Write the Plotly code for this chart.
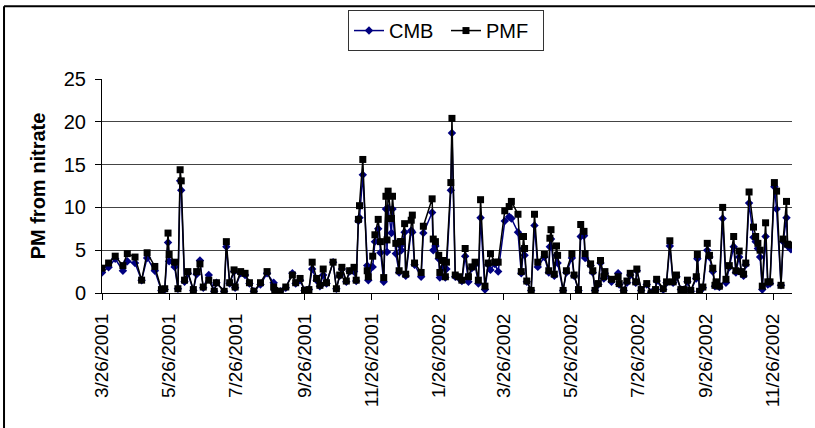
import pandas as pd
import plotly.graph_objects as go

# Sample days, counted from 2001-03-26
day_offset = [0, 6, 12, 19, 23, 30, 36, 41, 48, 54, 57, 60, 61, 66, 69, 71, 72, 75, 78, 83,
              86, 89, 92, 97, 102, 104, 111, 113, 116, 120, 121, 126, 130, 134, 138, 144, 150, 156, 157, 162,
              167, 173, 176, 180, 184, 188, 191, 195, 198, 201, 204, 210, 213, 216, 218, 222, 225, 229, 231, 233,
              234, 237, 241, 242, 246, 248, 251, 253, 256, 258, 259, 260, 263, 264, 267, 270, 271, 272, 275, 276,
              281, 282, 284, 290, 292, 300, 301, 303, 306, 307, 310, 312, 313, 317, 318, 321, 324, 327, 330, 333,
              336, 339, 342, 344, 348, 351, 353, 357, 360, 366, 370, 372, 378, 381, 383, 384, 386, 390, 393, 396,
              402, 406, 407, 408, 411, 413, 414, 419, 422, 427, 429, 433, 435, 438, 439, 444, 446, 448, 451, 453,
              456, 457, 463, 469, 470, 474, 477, 480, 485, 486, 490, 495, 499, 503, 504, 510, 513, 516, 519, 522,
              526, 529, 532, 535, 540, 541, 543, 546, 550, 552, 555, 557, 558, 561, 564, 567, 570, 574, 576, 579,
              581, 583, 585, 588, 592, 594, 596, 598, 600, 603, 605, 607, 611, 613, 617, 619, 622, 623, 626]

pmf = [2.9, 3.5, 4.3, 3.2, 4.6, 4.2, 1.5, 4.7, 3.1, 0.4, 0.5, 7.0, 4.5, 3.6, 0.5, 14.4, 13.1, 1.5, 2.5, 0.4,
       2.5, 3.4, 0.7, 1.5, 0.2, 1.2, 0.2, 6.0, 1.2, 2.7, 0.7, 2.5, 2.3, 1.2, 0.2, 1.2, 2.5, 0.7, 0.3, 0.2,
       0.7, 2.1, 1.2, 1.7, 0.3, 0.4, 3.6, 1.7, 0.9, 2.8, 1.2, 3.6, 0.5, 2.1, 3.0, 1.4, 2.6, 3.0, 1.5, 8.6,
       10.2, 15.6, 2.6, 1.9, 4.3, 6.8, 8.6, 6.0, 1.8, 11.3, 6.2, 11.9, 8.7, 11.3, 5.8, 2.6, 6.0, 6.0, 8.1, 2.2,
       8.5, 9.1, 3.5, 2.4, 7.8, 11.0, 6.3, 6.0, 4.4, 2.4, 3.8, 1.9, 3.6, 12.9, 20.4, 2.1, 1.9, 1.5, 5.2, 1.9,
       3.05, 3.6, 1.5, 10.9, 0.8, 3.5, 4.6, 3.6, 3.6, 9.6, 10.1, 10.7, 9.2, 2.5, 6.6, 5.2, 1.4, 0.3, 9.2, 3.6,
       4.5, 2.6, 6.4, 7.4, 2.2, 5.5, 4.4, 0.3, 2.6, 4.6, 2.1, 0.4, 8.0, 7.2, 4.6, 3.4, 2.6, 0.3, 1.1, 3.8,
       1.9, 2.5, 1.6, 1.9, 1.1, 0.3, 1.4, 2.3, 1.3, 2.8, 0.4, 1.1, 0.0, 0.4, 1.6, 0.5, 1.3, 6.1, 1.3, 2.1,
       0.4, 0.4, 1.5, 0.3, 1.9, 4.5, 0.2, 0.7, 5.8, 4.4, 2.9, 0.9, 1.3, 0.8, 10.0, 1.6, 3.2, 6.6, 2.6, 4.9,
       2.5, 2.2, 3.5, 11.8, 7.7, 6.6, 5.8, 5.0, 0.8, 8.2, 1.3, 1.3, 12.9, 11.9, 0.9, 6.3, 10.7, 5.7, 5.6]

cmb = [2.4, 3.0, 4.0, 2.6, 3.7, 3.5, 1.5, 4.1, 2.6, 0.3, 0.4, 5.9, 3.7, 3.05, 0.5, 13.1, 12.0, 1.3, 2.3, 0.3,
       2.2, 3.8, 0.6, 2.1, 0.2, 1.2, 0.2, 5.4, 1.1, 2.5, 0.6, 2.3, 2.1, 1.1, 0.2, 1.0, 2.3, 1.2, 0.3, 0.2,
       0.6, 2.3, 1.1, 1.5, 0.3, 0.4, 2.8, 1.5, 0.8, 2.1, 1.1, 3.6, 0.5, 2.0, 2.8, 1.3, 2.5, 2.5, 1.4, 8.4,
       8.8, 13.8, 3.2, 1.5, 3.05, 6.0, 7.5, 4.7, 1.3, 9.8, 4.8, 9.9, 7.0, 9.8, 4.6, 2.4, 5.5, 5.0, 7.1, 2.0,
       7.3, 7.1, 3.3, 1.9, 7.0, 9.4, 5.0, 5.5, 4.0, 1.8, 3.05, 1.8, 2.8, 12.0, 18.7, 1.9, 1.8, 1.4, 4.3, 1.3,
       2.9, 3.3, 1.1, 8.8, 0.4, 3.3, 2.7, 3.4, 2.5, 8.4, 8.9, 8.7, 7.1, 2.3, 5.2, 4.4, 1.3, 0.3, 7.9, 3.05,
       4.2, 2.4, 5.4, 6.3, 2.0, 4.4, 3.5, 0.3, 2.4, 4.1, 2.0, 0.3, 6.6, 6.7, 4.1, 3.2, 2.4, 0.3, 1.0, 3.5,
       1.7, 2.3, 1.3, 2.3, 1.0, 0.3, 1.2, 2.1, 1.2, 2.6, 0.3, 1.0, 0.1, 0.4, 1.4, 0.4, 1.2, 5.5, 1.2, 1.9,
       0.4, 0.4, 1.3, 0.2, 1.7, 4.0, 0.2, 0.6, 5.0, 4.2, 2.5, 0.8, 1.2, 0.7, 8.7, 1.2, 3.0, 5.4, 2.4, 4.2,
       2.4, 2.0, 3.3, 10.5, 6.5, 6.0, 5.2, 4.2, 0.4, 6.6, 1.0, 1.1, 12.4, 9.8, 0.9, 6.0, 8.8, 5.5, 5.1]

tick_labels = ["3/26/2001", "5/26/2001", "7/26/2001", "9/26/2001", "11/26/2001", "1/26/2002",
               "3/26/2002", "5/26/2002", "7/26/2002", "9/26/2002", "11/26/2002"]
y_ticks = [0, 5, 10, 15, 20, 25]

start = pd.Timestamp("2001-03-26")
dates = [start + pd.Timedelta(days=d) for d in day_offset]
tick_vals = [pd.to_datetime(t, format="%m/%d/%Y") for t in tick_labels]
x_end = start + pd.Timedelta(days=627)

FONT = "Liberation Sans, Arial, sans-serif"

fig = go.Figure()
fig.add_trace(go.Scatter(
    x=dates, y=cmb, name="CMB", mode="lines+markers",
    line=dict(color="#000080", width=1.5),
    marker=dict(symbol="diamond", size=6.5, color="#000080"),
))
fig.add_trace(go.Scatter(
    x=dates, y=pmf, name="PMF", mode="lines+markers",
    line=dict(color="#000000", width=1.5),
    marker=dict(symbol="square", size=7, color="#000000"),
))

fig.update_layout(
    width=815, height=428, autosize=False,
    margin=dict(l=102, r=23, t=78, b=135),
    paper_bgcolor="white", plot_bgcolor="white",
    font=dict(family=FONT, size=19, color="black"),
    showlegend=True,
    legend=dict(
        orientation="h", x=0.3565, y=1.316, xanchor="left", yanchor="top",
        bordercolor="#333333", borderwidth=1, bgcolor="white",
        font=dict(family=FONT, size=20, color="black"),
        itemwidth=30, tracegroupgap=0, entrywidth=52,
    ),
    xaxis=dict(
        type="date", range=[start, x_end],
        tickmode="array", tickvals=tick_vals, ticktext=tick_labels,
        tickangle=-90, ticks="outside", ticklen=6, tickcolor="black",
        ticklabelstandoff=6,
        showline=True, linecolor="black", linewidth=1,
        showgrid=False, zeroline=False,
        tickfont=dict(family=FONT, size=19, color="black"),
    ),
    yaxis=dict(
        range=[0, 25], tickvals=y_ticks,
        ticks="outside", ticklen=6, tickcolor="black",
        ticklabelstandoff=5,
        showline=True, linecolor="black", linewidth=1,
        showgrid=True, gridcolor="#444444", gridwidth=1, zeroline=False,
        tickfont=dict(family=FONT, size=20, color="black"),
        title=dict(text="<b>PM from nitrate</b>", font=dict(family=FONT, size=20, color="black"), standoff=12),
    ),
    shapes=[
        dict(type="line", xref="paper", yref="paper", x0=-0.142, x1=1.2, y0=1.3395, y1=1.3395,
             line=dict(color="black", width=2)),
        dict(type="line", xref="paper", yref="paper", x0=-0.142, x1=-0.142, y0=-0.8, y1=1.3395,
             line=dict(color="black", width=2)),
    ],
)

fig.write_html("out.html")
